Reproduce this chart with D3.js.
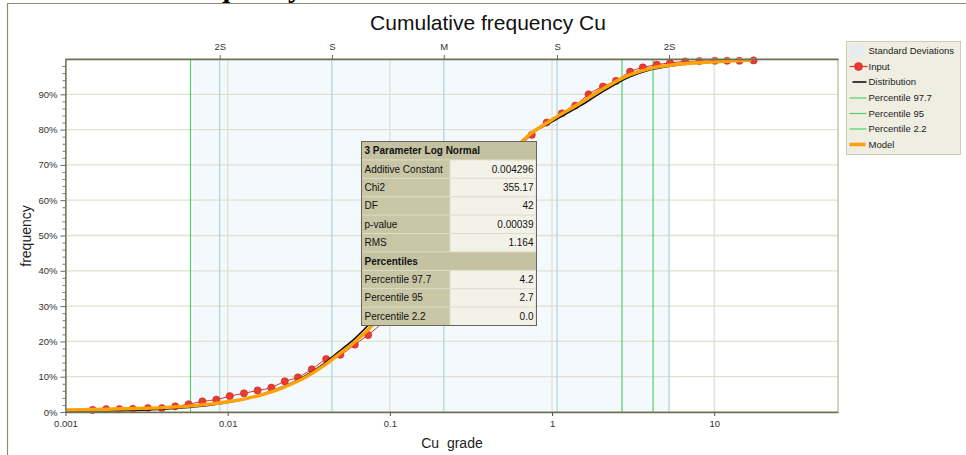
<!DOCTYPE html>
<html>
<head>
<meta charset="utf-8">
<script src="https://cdn.jsdelivr.net/npm/d3@7"></script>
<style>
  body { margin: 0; background: #fff; }
  svg { display: block; font-family: "Liberation Sans", Arial, sans-serif; }
</style>
</head>
<body>
<div id="app"></div>
<script>
//input samples (Cu grade, cumulative %)
const inputGrade = [0.00147, 0.00178, 0.00215, 0.0026, 0.00322, 0.00393, 0.00475, 0.00574, 0.00698, 0.00851,
  0.0103, 0.0126, 0.0153, 0.0186, 0.0225, 0.0271, 0.033, 0.0405, 0.0495, 0.0608, 0.0735,
  0.75, 0.927, 1.15, 1.39, 1.68, 2.06, 2.48, 3.03, 3.63, 4.43, 5.35, 6.62, 8.1, 10.1, 12.0, 14.3, 17.5];
const inputFreq = [0.6, 0.8, 0.8, 0.9, 1.1, 1.1, 1.6, 2.2, 3.0, 3.5,
  4.5, 5.3, 6.1, 6.9, 8.7, 9.8, 12.1, 15.0, 16.2, 19.1, 21.8,
  78.5, 82.0, 84.6, 86.8, 90.0, 92.2, 93.8, 96.4, 97.6, 98.4, 98.9, 99.3, 99.4, 99.5, 99.5, 99.5, 99.6];

//fitted distribution (black)
const distGrade = [0.001, 0.002, 0.003, 0.004, 0.005, 0.006, 0.008, 0.01, 0.013, 0.016, 0.02, 0.025, 0.03,
  0.04, 0.045, 0.05, 0.06, 0.075, 0.1, 0.15, 0.215, 0.3, 0.45, 0.7, 1.0, 1.5, 2, 3, 4, 6, 10, 17];
const distFreq = [0.15, 0.3, 0.5, 0.8, 1.1, 1.4, 2.0, 2.7, 3.8, 4.9, 6.4, 8.3, 10.2,
  14.0, 15.9, 17.6, 20.6, 25.0, 31.5, 41, 50, 58, 68, 78.0, 82.2, 86.8, 90.4, 94.9, 96.9, 98.3, 99.2, 99.6];

//model (orange)
const modelGrade = [0.001, 0.0015, 0.002, 0.003, 0.004, 0.005, 0.006, 0.008, 0.01, 0.013, 0.016, 0.02, 0.025, 0.03,
  0.04, 0.045, 0.05, 0.06, 0.075, 0.1, 0.15, 0.215, 0.3, 0.45, 0.7, 1.0, 1.5, 2, 3, 4, 6, 10, 17];
const modelFreq = [0.6, 0.7, 0.85, 1.05, 1.25, 1.5, 1.75, 2.3, 2.9, 3.8, 4.8, 6.2, 8.0, 9.8,
  13.4, 15.2, 16.8, 19.6, 23.8, 31, 41, 50, 58, 68, 78, 82.8, 87.6, 91.2, 95.5, 97.3, 98.5, 99.2, 99.7];

//standard deviation markers
const sdLabels = ["2S", "S", "M", "S", "2S"];
const sdValues = [0.00893, 0.0439, 0.215, 1.074, 5.27];
const sdBand = [0.0061, 5.27];

//percentile lines
const percentileNames = ["Percentile 97.7", "Percentile 95", "Percentile 2.2"];
const percentileValues = [4.2, 2.7, 0.0059];

//axes
const xTicks = [0.001, 0.01, 0.1, 1, 10];
const xTickLabels = ["0.001", "0.01", "0.1", "1", "10"];
const yTicks = [0, 10, 20, 30, 40, 50, 60, 70, 80, 90];

//fit table
const fitTitle = "3 Parameter Log Normal";
const fitLabels = ["Additive Constant", "Chi2", "DF", "p-value", "RMS"];
const fitValues = ["0.004296", "355.17", "42", "0.00039", "1.164"];
const pctTitle = "Percentiles";
const pctValueLabels = ["4.2", "2.7", "0.0"];

const legendLabels = ["Standard Deviations", "Input", "Distribution", "Percentile 97.7", "Percentile 95", "Percentile 2.2", "Model"];

const w = 966;
const h = 455;
const plotL = 65.5, plotR = 838, plotT = 59, plotB = 412;

const svg = d3.select("#app").append("svg").attr("width", w).attr("height", h);

//cut off text from the page above
svg.append("text")
  .attr("x", 171).attr("y", -3)
  .style("font-family", "'Liberation Serif', serif")
  .style("font-weight", "bold")
  .style("font-size", "29px")
  .text("Frequency");

//outer frame
svg.append("path")
  .attr("d", `M7.5,${h} V3.5 H${w}`)
  .attr("fill", "none").attr("stroke", "#8d8d72").attr("stroke-width", 1.2);

const x = d3.scaleLog().domain([0.001, 58]).range([plotL, plotR]);
const y = d3.scaleLinear().domain([0, 100]).range([plotB, plotT]);

//title
svg.append("text")
  .attr("x", 488).attr("y", 30)
  .attr("text-anchor", "middle")
  .style("font-size", "21px").style("fill", "#111")
  .text("Cumulative frequency Cu");

//sd band
svg.append("rect")
  .attr("x", x(sdBand[0])).attr("y", plotT)
  .attr("width", x(sdBand[1]) - x(sdBand[0])).attr("height", plotB - plotT)
  .attr("fill", "#f3f9fc");

//grid
svg.append("g").selectAll("line")
  .data(yTicks.slice(1)).enter().append("line")
  .attr("x1", plotL).attr("x2", plotR)
  .attr("y1", (d) => y(d)).attr("y2", (d) => y(d))
  .attr("stroke", "#e1e1cf").attr("stroke-width", 1.3);

svg.append("g").selectAll("line")
  .data(xTicks.slice(1)).enter().append("line")
  .attr("x1", (d) => x(d)).attr("x2", (d) => x(d))
  .attr("y1", plotT).attr("y2", plotB)
  .attr("stroke", "#e1e1cf").attr("stroke-width", 1.3);

//sd lines
svg.append("g").selectAll("line")
  .data(sdValues).enter().append("line")
  .attr("x1", (d) => x(d)).attr("x2", (d) => x(d))
  .attr("y1", plotT).attr("y2", plotB)
  .attr("stroke", "#aed6e3").attr("stroke-width", 1.3);

//percentile lines
svg.append("g").selectAll("line")
  .data(percentileValues).enter().append("line")
  .attr("x1", (d) => x(d)).attr("x2", (d) => x(d))
  .attr("y1", plotT).attr("y2", plotB)
  .attr("stroke", "#4fd26a").attr("stroke-width", 1.2);

//input
const inputData = d3.zip(inputGrade, inputFreq);
const line = d3.line().x((d) => x(d[0])).y((d) => y(d[1])).curve(d3.curveMonotoneX);

svg.append("path")
  .datum(inputData)
  .attr("d", line)
  .attr("fill", "none").attr("stroke", "#e0302a").attr("stroke-width", 1);

svg.append("g").selectAll("circle")
  .data(inputData).enter().append("circle")
  .attr("cx", (d) => x(d[0])).attr("cy", (d) => y(d[1]))
  .attr("r", 3.6)
  .attr("fill", "#ea3b33").attr("stroke", "#c42a24").attr("stroke-width", 0.6);

//distribution
svg.append("path")
  .datum(d3.zip(distGrade, distFreq))
  .attr("d", line)
  .attr("fill", "none").attr("stroke", "#111").attr("stroke-width", 1.7);

//model
svg.append("path")
  .datum(d3.zip(modelGrade, modelFreq))
  .attr("d", line)
  .attr("fill", "none").attr("stroke", "#ffa20a").attr("stroke-width", 3.4);

//plot border
svg.append("rect")
  .attr("x", plotL).attr("y", plotT)
  .attr("width", plotR - plotL).attr("height", plotB - plotT)
  .attr("fill", "none").attr("stroke", "#a9a98a").attr("stroke-width", 1);

//x axis
const xAxis = d3.axisBottom(x)
  .tickValues(xTicks)
  .tickFormat((d, i) => xTickLabels[i])
  .tickSize(4).tickSizeOuter(0).tickPadding(4);

const gx = svg.append("g")
  .attr("transform", "translate(0," + plotB + ")")
  .call(xAxis);
gx.select(".domain").attr("stroke", "#6e6e55").attr("stroke-width", 1.3);
gx.selectAll(".tick line").attr("stroke", "#555");
gx.selectAll("text").style("font-size", "9.5px").style("fill", "#333").style("font-family", "inherit");

//y axis
const yAxis = d3.axisLeft(y)
  .tickValues(yTicks)
  .tickFormat((d) => d + "%")
  .tickSize(5).tickSizeOuter(0).tickPadding(3);

const gy = svg.append("g")
  .attr("transform", "translate(" + plotL + ",0)")
  .call(yAxis);
gy.select(".domain").attr("stroke", "#6e6e55").attr("stroke-width", 1.3);
gy.selectAll(".tick line").attr("stroke", "#666");
gy.selectAll("text").style("font-size", "9.5px").style("fill", "#333").style("font-family", "inherit");

const yMinor = d3.axisLeft(y)
  .tickValues(d3.range(2, 100, 2).filter((d) => d % 10 !== 0))
  .tickFormat("")
  .tickSize(3).tickSizeOuter(0);

const gyMinor = svg.append("g")
  .attr("transform", "translate(" + plotL + ",0)")
  .call(yMinor);
gyMinor.select(".domain").remove();
gyMinor.selectAll(".tick line").attr("stroke", "#777");

//top sd axis
const sdAxis = d3.axisTop(x)
  .tickValues(sdValues)
  .tickFormat((d, i) => sdLabels[i])
  .tickSize(4).tickSizeOuter(0).tickPadding(5);

const gs = svg.append("g")
  .attr("transform", "translate(0," + plotT + ")")
  .call(sdAxis);
gs.select(".domain").attr("stroke", "#6e6e55").attr("stroke-width", 1.3);
gs.selectAll(".tick line").attr("stroke", "#666");
gs.selectAll("text").style("font-size", "9.5px").style("fill", "#333").style("font-family", "inherit");

//axis titles
svg.append("text")
  .attr("x", 452).attr("y", 448)
  .attr("text-anchor", "middle")
  .style("font-size", "14px").style("fill", "#222")
  .style("white-space", "pre")
  .text("Cu  grade");

svg.append("text")
  .attr("transform", "translate(27,236) rotate(-90)")
  .attr("text-anchor", "middle")
  .attr("dy", "0.3em")
  .style("font-size", "14px").style("fill", "#222")
  .text("frequency");

//fit table
const tx = 361.5, ty = 141.5, tw = 175, rowH = 18.4, labelW = 88.5;
const rows = [{ head: fitTitle }]
  .concat(fitLabels.map((l, i) => ({ label: l, value: fitValues[i] })))
  .concat([{ head: pctTitle }])
  .concat(percentileNames.map((l, i) => ({ label: l, value: pctValueLabels[i] })));

const table = svg.append("g");
table.append("rect")
  .attr("x", tx).attr("y", ty).attr("width", tw).attr("height", rowH * rows.length)
  .attr("fill", "#dedcc8");

const row = table.selectAll("g").data(rows).enter().append("g")
  .attr("transform", (d, i) => "translate(" + tx + "," + (ty + i * rowH) + ")");

row.append("rect")
  .attr("x", 0.5).attr("y", 0.5)
  .attr("width", (d) => (d.head ? tw - 1 : labelW - 1)).attr("height", rowH - 1)
  .attr("fill", (d) => (d.head ? "#c5c2a1" : "#c9c6a6"));

row.filter((d) => !d.head).append("rect")
  .attr("x", labelW + 0.5).attr("y", 0.5)
  .attr("width", tw - labelW - 1.5).attr("height", rowH - 1)
  .attr("fill", "#f3f2e8");

row.append("text")
  .attr("x", 3).attr("y", rowH / 2).attr("dy", "0.35em")
  .style("font-size", "10px").style("fill", "#111")
  .style("font-weight", (d) => (d.head ? "bold" : "normal"))
  .text((d) => d.head || d.label);

row.filter((d) => !d.head).append("text")
  .attr("x", tw - 3).attr("y", rowH / 2).attr("dy", "0.35em")
  .attr("text-anchor", "end")
  .style("font-size", "10px").style("fill", "#111")
  .text((d) => d.value);

table.append("rect")
  .attr("x", tx).attr("y", ty).attr("width", tw).attr("height", rowH * rows.length)
  .attr("fill", "none").attr("stroke", "#66665a").attr("stroke-width", 1);

//legend
const legend = svg.append("g").attr("transform", "translate(846.5,41.5)");
legend.append("rect")
  .attr("width", 114).attr("height", 113)
  .attr("fill", "#eeeee3").attr("stroke", "#cdcdb5");

const itemY = [9.5, 25, 40.5, 56.5, 72, 87.5, 103];
const items = legend.selectAll("g.item").data(legendLabels).enter().append("g")
  .attr("class", "item")
  .attr("transform", (d, i) => "translate(0," + itemY[i] + ")");

items.append("text")
  .attr("x", 22).attr("dy", "0.35em")
  .style("font-size", "9.5px").style("fill", "#222")
  .text((d) => d);

legend.append("rect")
  .attr("x", 3).attr("y", itemY[0] - 6.5).attr("width", 15).attr("height", 13)
  .attr("fill", "#e6ecee");

legend.append("line")
  .attr("x1", 3).attr("x2", 21).attr("y1", itemY[1]).attr("y2", itemY[1])
  .attr("stroke", "#e0302a").attr("stroke-width", 1.2);
legend.append("circle")
  .attr("cx", 12).attr("cy", itemY[1]).attr("r", 4)
  .attr("fill", "#ea3b33").attr("stroke", "#c42a24").attr("stroke-width", 0.6);

legend.append("line")
  .attr("x1", 6).attr("x2", 20).attr("y1", itemY[2]).attr("y2", itemY[2])
  .attr("stroke", "#111").attr("stroke-width", 1.6);

legend.selectAll("line.pct").data([3, 4, 5]).enter().append("line")
  .attr("class", "pct")
  .attr("x1", 3).attr("x2", 20)
  .attr("y1", (d) => itemY[d]).attr("y2", (d) => itemY[d])
  .attr("stroke", "#4fd26a").attr("stroke-width", 1.2);

legend.append("line")
  .attr("x1", 3).attr("x2", 19).attr("y1", itemY[6]).attr("y2", itemY[6])
  .attr("stroke", "#ffa20a").attr("stroke-width", 3.6);
</script>
</body>
</html>
